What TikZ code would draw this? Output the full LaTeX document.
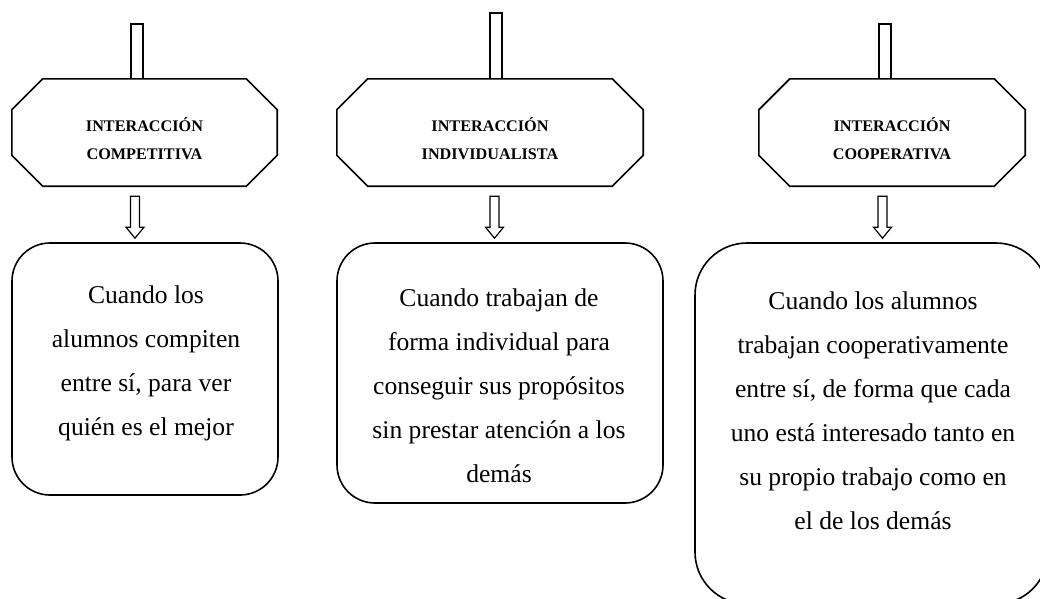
\documentclass[tikz,border=0pt]{standalone}
\usepackage{fontspec}
\setmainfont{Liberation Serif}
\usetikzlibrary{calc, positioning}

\tikzset{
  octogono/.style={minimum height=107pt, inner sep=0pt},
  borde/.style={line width=1.6pt, line join=miter},
  redondo/.style={draw, line width=1.6pt, inner sep=0pt},
  rotulo/.style={align=center, font=\bfseries\fontsize{16.2}{28}\selectfont},
  texto/.style={align=center, font=\fontsize{25.6}{44}\selectfont},
  bloque/.style={line width=1.2pt},
}

\newcommand{\chaflan}[1]{%
  \draw[borde] ($(#1.north west)+(31,0)$) -- ($(#1.north east)+(-31,0)$) -- ($(#1.north east)+(0,31)$)
    -- ($(#1.south east)+(0,-31)$) -- ($(#1.south east)+(-31,0)$) -- ($(#1.south west)+(31,0)$)
    -- ($(#1.south west)+(0,-31)$) -- ($(#1.north west)+(0,31)$) -- cycle;}

\newcommand{\flechabloque}[3]{%
  \draw[bloque] let \p1=($(#1.south)+(#3,0)$), \p2=(#2.north) in
    (\x1-4.5pt,\y1-10pt) -- (\x1-4.5pt,\y2+15pt) -- (\x1-9pt,\y2+15pt) -- (\x1,\y2+4pt)
    -- (\x1+9pt,\y2+15pt) -- (\x1+4.5pt,\y2+15pt) -- (\x1+4.5pt,\y1-10pt) -- cycle;}

\begin{document}
\begin{tikzpicture}[x=1pt, y=-1pt]
\useasboundingbox (0,0) rectangle (1040,598);
\clip (0,0) rectangle (1040,598);

\node[octogono, minimum width=265pt] (hA) at (144.5,132.5) {};
\node[octogono, minimum width=306pt] (hB) at (490,132.5) {};
\node[octogono, minimum width=266pt] (hC) at (892,132.5) {};
\chaflan{hA}
\chaflan{hB}
\chaflan{hC}

\node[rotulo] (rA) at (144.5,139) {INTERACCIÓN\\COMPETITIVA};
\node[rotulo] (rB) at (490,139) {INTERACCIÓN\\INDIVIDUALISTA};
\node[rotulo] (rC) at (892,139) {INTERACCIÓN\\COOPERATIVA};

\node[redondo, rounded corners=38pt, minimum width=266pt, minimum height=252pt] (cA) at (145,369) {};
\node[redondo, rounded corners=38pt, minimum width=326pt, minimum height=260pt] (cB) at (500,373) {};
\node[redondo, rounded corners=52pt, minimum width=353pt, minimum height=361pt] (cC) at (871.5,423.5) {};

\node[texto] (tA) at (146,363) {Cuando los\\alumnos compiten\\entre sí, para ver\\quién es el mejor};
\node[texto] (tB) at (499,386) {Cuando trabajan de\\forma individual para\\conseguir sus propósitos\\sin prestar atención a los\\demás};
\node[texto] (tC) at (873,411) {Cuando los alumnos\\trabajan cooperativamente\\entre sí, de forma que cada\\uno está interesado tanto en\\su propio trabajo como en\\el de los demás};

\coordinate (sA) at (137,24);
\coordinate (sB) at (496,13);
\coordinate (sC) at (885,24);
\draw[bloque] ($(sA)+(-6,0)$) rectangle ($(sA |- hA.north)+(6,0)$);
\draw[bloque] ($(sB)+(-6,0)$) rectangle ($(sB |- hB.north)+(6,0)$);
\draw[bloque] ($(sC)+(-6,0)$) rectangle ($(sC |- hC.north)+(6,0)$);

\flechabloque{hA}{cA}{-9.5}
\flechabloque{hB}{cB}{4.5}
\flechabloque{hC}{cC}{-9.5}

\end{tikzpicture}
\end{document}
